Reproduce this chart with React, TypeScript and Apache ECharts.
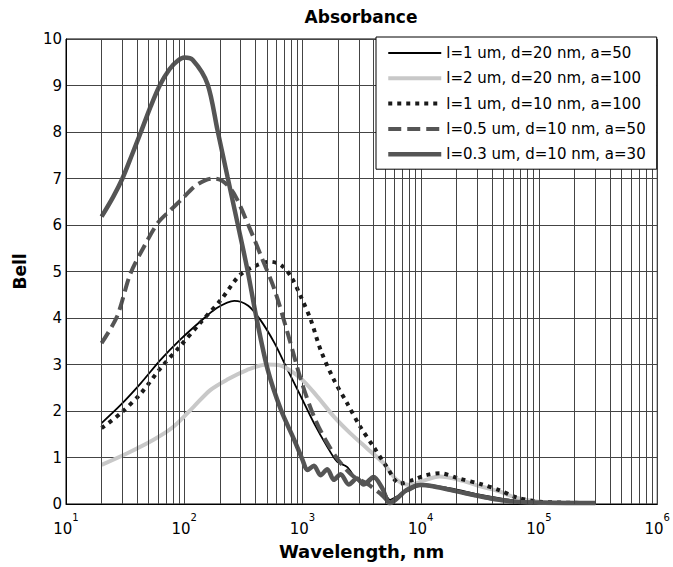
import React, { useEffect, useRef } from "react";
import * as echarts from "echarts";

// Wavelength (nm) and absorbance (Bell) values
const NAMES = [
  "l=1 um, d=20 nm, a=50",
  "l=2 um, d=20 nm, a=100",
  "l=1 um, d=10 nm, a=100",
  "l=0.5 um, d=10 nm, a=50",
  "l=0.3 um, d=10 nm, a=30",
];

const W_S1 = [20, 29, 43, 63, 92, 136, 190, 265, 345, 440, 580, 750, 970, 1250, 1620, 1960, 2380, 2890, 3500, 4000, 4700, 5500, 6600, 8600, 10000, 17400, 33000, 60000, 100000, 300000];
const V_S1 = [1.74, 2.13, 2.6, 3.1, 3.53, 3.92, 4.22, 4.37, 4.27, 3.96, 3.46, 2.88, 2.31, 1.74, 1.23, 0.91, 0.8, 0.52, 0.44, 0.55, 0.37, 0.09, 0.19, 0.34, 0.41, 0.34, 0.19, 0.08, 0.04, 0.02];

const W_S2 = [20, 33, 55, 81, 120, 166, 229, 338, 498, 645, 968, 1336, 1843, 2540, 3500, 4830, 6250, 8080, 11100, 14400, 21000, 33000, 46000, 65000, 100000, 300000];
const V_S2 = [0.84, 1.09, 1.38, 1.66, 2.09, 2.45, 2.67, 2.88, 3.0, 2.98, 2.7, 2.31, 1.88, 1.52, 1.2, 0.88, 0.52, 0.41, 0.52, 0.59, 0.52, 0.37, 0.27, 0.13, 0.05, 0.02];

const W_S3 = [20, 29, 43, 63, 92, 136, 204, 297, 415, 537, 658, 800, 968, 1175, 1424, 1843, 2380, 3080, 3990, 5160, 6640, 8600, 11100, 14600, 21000, 33000, 46000, 65000, 100000, 300000];
const V_S3 = [1.63, 1.95, 2.38, 2.92, 3.39, 3.89, 4.39, 4.93, 5.14, 5.21, 5.14, 4.89, 4.46, 3.96, 3.31, 2.67, 2.17, 1.66, 1.23, 0.8, 0.44, 0.52, 0.62, 0.66, 0.55, 0.42, 0.3, 0.14, 0.05, 0.02];

const W_S4 = [20, 27, 35, 46, 60, 75, 95, 121, 150, 175, 210, 263, 363, 448, 580, 750, 970, 1250, 1620, 2100, 2710, 3500, 4530, 5500, 7100, 10000, 24000, 46000, 89000, 300000];
const V_S4 = [3.46, 4.03, 4.95, 5.55, 6.05, 6.3, 6.55, 6.82, 6.96, 7.0, 6.95, 6.68, 5.89, 5.32, 4.61, 3.67, 2.67, 1.88, 1.31, 0.88, 0.59, 0.44, 0.23, 0.05, 0.23, 0.41, 0.23, 0.09, 0.03, 0.02];

const W_S5 = [20, 25, 30, 36, 43, 52, 62, 75, 88, 100, 118, 157, 191, 232, 282, 342, 406, 509, 658, 851, 1000, 1100, 1250, 1420, 1620, 1840, 2100, 2460, 2890, 3280, 3990, 4700, 5500, 7600, 10000, 12700, 24000, 46000, 89000, 300000];
const V_S5 = [6.18, 6.6, 7.0, 7.5, 8.0, 8.55, 9.0, 9.35, 9.53, 9.6, 9.55, 9.04, 8.04, 7.04, 6.04, 5.04, 4.03, 2.88, 2.02, 1.38, 0.95, 0.73, 0.82, 0.62, 0.75, 0.52, 0.64, 0.42, 0.55, 0.42, 0.58, 0.35, 0.02, 0.3, 0.41, 0.38, 0.23, 0.09, 0.03, 0.02];

const X_MIN = 10;
const X_MAX = 1e6;
const Y_TICKS = { min: 0, max: 10, interval: 1 };
const MINOR_MULTS = [2, 3, 4, 5, 6, 7, 8, 9];
const DECADES = [10, 100, 1000, 10000, 100000];

const FONT = "DejaVu Sans";
const GRID_COLOR = "#444";

function pairs(w: number[], v: number[]) {
  return w.map((x, i) => [x, v[i]]);
}

export default function App() {
  const ref = useRef<HTMLDivElement>(null);
  useEffect(() => {
    if (!ref.current) return;
    const chart = echarts.init(ref.current, undefined, { renderer: "svg" });
    const minorLines: any[] = [];
    DECADES.forEach((d) => MINOR_MULTS.forEach((m) => minorLines.push({ xAxis: m * d })));

    const base = {
      type: "line",
      symbol: "none",
      showSymbol: false,
      smooth: 0.3,
      z: 3,
    };

    chart.setOption({
      animation: false,
      backgroundColor: "#fff",
      grid: {
        left: 66,
        right: 14,
        top: 39,
        bottom: 63,
        show: true,
        borderColor: "#000",
        borderWidth: 1,
        backgroundColor: "transparent",
      },
      graphic: [
        {
          type: "text",
          x: 361,
          y: 17,
          style: {
            text: "Absorbance",
            textAlign: "center",
            textVerticalAlign: "middle",
            fontFamily: FONT,
            fontWeight: "bold",
            fontSize: 17,
            fill: "#000",
          },
        },
      ],
      legend: {
        orient: "vertical",
        left: 376,
        top: 37,
        data: NAMES,
        backgroundColor: "#fff",
        borderColor: "#000",
        borderWidth: 1,
        borderRadius: 0,
        padding: [7, 11, 6, 10],
        itemWidth: 53,
        itemHeight: 14,
        itemGap: 7.3,
        itemStyle: { opacity: 0, borderWidth: 0 },
        lineStyle: { width: "inherit" },
        textStyle: { fontFamily: FONT, fontSize: 15, color: "#000", lineHeight: 18 },
        z: 10,
      },
      xAxis: {
        type: "log",
        logBase: 10,
        min: X_MIN,
        max: X_MAX,
        name: "Wavelength, nm",
        nameLocation: "middle",
        nameGap: 38,
        nameTextStyle: { fontFamily: FONT, fontWeight: "bold", fontSize: 18, color: "#000" },
        axisLine: { show: true, lineStyle: { color: "#000", width: 1 } },
        axisTick: { show: false },
        splitLine: { show: true, lineStyle: { color: GRID_COLOR, width: 1 } },
        axisLabel: {
          margin: 8,
          formatter: (v: number) => `{b|10}{s|${Math.round(Math.log10(v))}}`,
          rich: {
            b: { fontFamily: FONT, fontSize: 15, color: "#000", verticalAlign: "bottom", lineHeight: 24 },
            s: { fontFamily: FONT, fontSize: 10, color: "#000", verticalAlign: "top", lineHeight: 24 },
          },
        },
      },
      yAxis: {
        type: "value",
        min: Y_TICKS.min,
        max: Y_TICKS.max,
        interval: Y_TICKS.interval,
        name: "Bell",
        nameLocation: "middle",
        nameGap: 38,
        nameRotate: 90,
        nameTextStyle: { fontFamily: FONT, fontWeight: "bold", fontSize: 17, color: "#000" },
        axisLine: { show: true, lineStyle: { color: "#000", width: 1 } },
        axisTick: { show: false },
        splitLine: { show: true, lineStyle: { color: GRID_COLOR, width: 1 } },
        axisLabel: { margin: 4, fontFamily: FONT, fontSize: 15, color: "#000" },
      },
      series: [
        {
          name: "minor-grid",
          type: "line",
          data: [],
          z: 1,
          silent: true,
          markLine: {
            silent: true,
            symbol: ["none", "none"],
            label: { show: false },
            emphasis: { disabled: true },
            lineStyle: { color: GRID_COLOR, type: "solid", width: 1 },
            data: minorLines,
          },
        },
        {
          ...base,
          name: NAMES[0],
          data: pairs(W_S1, V_S1),
          color: "#000",
          lineStyle: { color: "#000", width: 1.8 },
        },
        {
          ...base,
          name: NAMES[1],
          data: pairs(W_S2, V_S2),
          color: "#c8c8c8",
          lineStyle: { color: "#c8c8c8", width: 4 },
        },
        {
          ...base,
          name: NAMES[2],
          data: pairs(W_S3, V_S3),
          color: "#1a1a1a",
          lineStyle: { color: "#1a1a1a", width: 4, type: [4, 5] },
        },
        {
          ...base,
          name: NAMES[3],
          data: pairs(W_S4, V_S4),
          color: "#555",
          lineStyle: { color: "#555", width: 4, type: [13, 6] },
        },
        {
          ...base,
          name: NAMES[4],
          data: pairs(W_S5, V_S5),
          color: "#555",
          lineStyle: { color: "#555", width: 4.5 },
        },
      ],
    });
    return () => chart.dispose();
  }, []);

  return (
    <div
      ref={ref}
      style={{ position: "fixed", left: 0, top: 0, width: 673, height: 567, background: "#fff" }}
    />
  );
}
